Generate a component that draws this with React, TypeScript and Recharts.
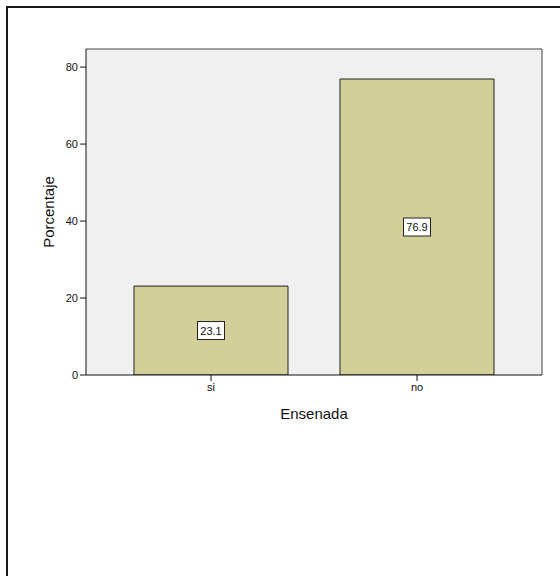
import React from 'react';
import { BarChart, Bar, XAxis, YAxis, LabelList, CartesianGrid } from 'recharts';

const categories = ['si', 'no'];
const percentages = [23.1, 76.9];
const yTicks = [0, 20, 40, 60, 80];
const xTitle = 'Ensenada';
const yTitle = 'Porcentaje';

const data = categories.map((c, i) => ({ name: c, value: percentages[i] }));

const FONT = '"Liberation Sans", Arial, sans-serif';

const BoxLabel = (props: any) => {
  const { x, y, width, height, value } = props;
  const cx = x + width / 2;
  const cy = y + height / 2;
  const text = Number(value).toFixed(1);
  const w = 27;
  const h = 18;
  return (
    <g>
      <rect x={cx - w / 2} y={cy - h / 2} width={w} height={h} fill="#ffffff" stroke="#222" strokeWidth={1} />
      <text x={cx} y={cy + 4} textAnchor="middle" fontSize={11} fontFamily={FONT} fill="#111">
        {text}
      </text>
    </g>
  );
};

const YTitle = (props: any) => {
  const vb = props.viewBox || {};
  const cy = vb.y + vb.height / 2;
  const cx = 54;
  return (
    <text x={cx} y={cy} transform={`rotate(-90 ${cx} ${cy})`} textAnchor="middle" fontSize={15} fontFamily={FONT} fill="#111">
      {yTitle}
    </text>
  );
};

const XTitle = (props: any) => {
  const vb = props.viewBox || {};
  const cx = vb.x + vb.width / 2;
  return (
    <text x={cx} y={419} textAnchor="middle" fontSize={15} fontFamily={FONT} fill="#111">
      {xTitle}
    </text>
  );
};

export default function App() {
  return (
    <div style={{ position: 'absolute', left: 0, top: 0, width: 560, height: 576, overflow: 'hidden', background: '#fff' }}>
      <div
        style={{
          position: 'absolute',
          left: 6,
          top: 6,
          width: 700,
          height: 700,
          borderTop: '2px solid #1a1a1a',
          borderLeft: '2px solid #1a1a1a',
        }}
      />
      <div style={{ position: 'absolute', left: 0, top: 0 }}>
        <BarChart
          width={560}
          height={576}
          data={data}
          margin={{ top: 0, right: 0, bottom: 151, left: 0 }}
        >
          <CartesianGrid fill="#f0f0f0" stroke="none" horizontal={false} vertical={false} />
          <XAxis
            xAxisId="top"
            orientation="top"
            dataKey="name"
            height={49}
            tick={false}
            tickLine={false}
            axisLine={{ stroke: '#444', strokeWidth: 1 }}
          />
          <YAxis
            yAxisId="right"
            orientation="right"
            width={18}
            domain={[0, 84.7]}
            tick={false}
            tickLine={false}
            axisLine={{ stroke: '#444', strokeWidth: 1 }}
          />
          <XAxis
            dataKey="name"
            height={50}
            padding={{ left: 22, right: 22 }}
            tickSize={6}
            tickLine={{ stroke: '#111' }}
            axisLine={{ stroke: '#111', strokeWidth: 1 }}
            tick={{ fontSize: 11, fontFamily: FONT, fill: '#111' }}
            label={<XTitle />}
          />
          <YAxis
            width={86}
            domain={[0, 84.7]}
            ticks={yTicks}
            type="number"
            allowDataOverflow
            tickSize={6}
            tickLine={{ stroke: '#111' }}
            axisLine={{ stroke: '#111', strokeWidth: 1 }}
            tick={{ fontSize: 11, fontFamily: FONT, fill: '#111' }}
            label={<YTitle />}
          />
          <Bar
            dataKey="value"
            fill="#d3cf98"
            stroke="#222"
            strokeWidth={1}
            barSize={154}
            isAnimationActive={false}
          >
            <LabelList dataKey="value" content={<BoxLabel />} />
          </Bar>
        </BarChart>
      </div>
    </div>
  );
}
